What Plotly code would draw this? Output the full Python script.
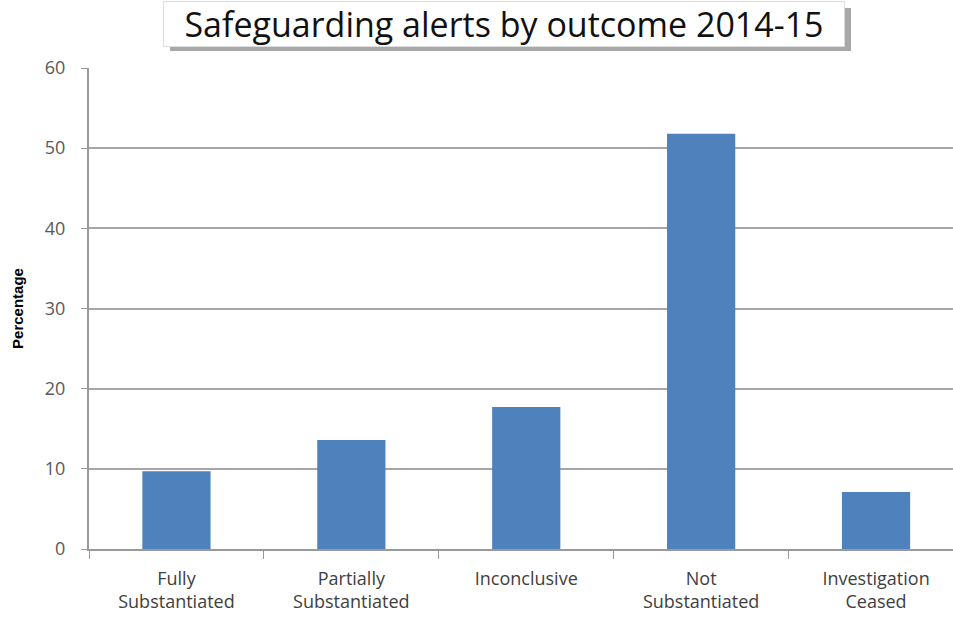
import plotly.graph_objects as go

categories = ["Fully<br>Substantiated", "Partially<br>Substantiated", "Inconclusive",
              "Not<br>Substantiated", "Investigation<br>Ceased"]
values = [9.7, 13.6, 17.7, 51.8, 7.1]
y_ticks = [0, 10, 20, 30, 40, 50, 60]
title_text = "Safeguarding alerts by outcome 2014-15"

fig = go.Figure()
fig.add_trace(go.Bar(x=categories, y=values, marker=dict(color="#4f81bd", line=dict(width=0)),
                     width=0.39))

fig.update_layout(
    width=953, height=621,
    margin=dict(l=89, r=0, t=68, b=72),
    paper_bgcolor="white", plot_bgcolor="white",
    showlegend=False,
    font=dict(family="Open Sans", color="#595959"),
    xaxis=dict(range=[-0.5, 4.44], showline=True, linecolor="#9a9a9a", linewidth=2,
               ticks="outside", tickson="boundaries", ticklen=8, tickcolor="#9a9a9a",
               tickwidth=1, tickfont=dict(size=18, color="#404040", family="Open Sans"),
               ticklabelstandoff=12, showgrid=False),
    yaxis=dict(range=[0, 60], tickvals=y_ticks, showline=True, linecolor="#9a9a9a", linewidth=2,
               ticks="outside", ticklen=6, tickcolor="#9a9a9a",
               gridcolor="#a6a6a6", gridwidth=2,
               tickfont=dict(size=18, color="#595959", family="Open Sans"),
               ticklabelstandoff=12,
               title=dict(text="<b>Percentage</b>", font=dict(size=15, color="black", family="Liberation Sans"),
                          standoff=18),
               zeroline=False),
)

# title box with shadow
fig.add_shape(type="rect", xref="paper", yref="paper",
              x0=(170 - 89) / 864, x1=(851 - 89) / 864,
              y0=(549 - 51) / 481, y1=(549 - 8) / 481,
              fillcolor="#a8a8a8", line=dict(width=0), layer="above")
fig.add_annotation(text=title_text, xref="paper", yref="paper",
                   x=(504 - 89) / 864, y=(549 - 24) / 481, showarrow=False,
                   font=dict(size=34, color="#111111", family="Open Sans"),
                   bgcolor="white", bordercolor="#dddddd", borderwidth=1,
                   width=678, height=42, xanchor="center", yanchor="middle")

fig.write_html("out.html")
